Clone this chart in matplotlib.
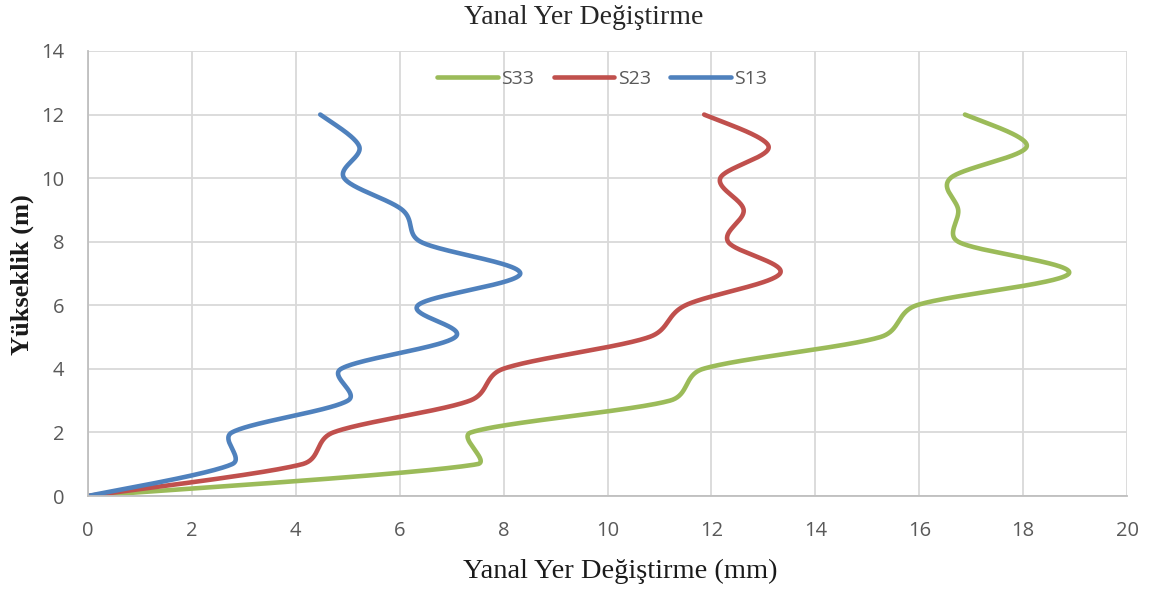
import numpy as np
import matplotlib
matplotlib.use("Agg")
import matplotlib.pyplot as plt

# Height levels (m) and lateral displacement (mm) per column
heights = [0, 1, 2, 3, 4, 5, 6, 7, 8, 9, 10, 11, 12]
s33 = [0, 7.49, 7.37, 11.2, 11.84, 15.25, 15.95, 18.88, 16.75, 16.75, 16.6, 18.07, 16.88]
s23 = [0, 4.12, 4.72, 7.35, 7.99, 10.8, 11.5, 13.32, 12.32, 12.62, 12.17, 13.1, 11.86]
s13 = [0, 2.77, 2.77, 5.0, 4.87, 7.07, 6.35, 8.32, 6.4, 6.05, 4.93, 5.22, 4.47]

series_names = ["S33", "S23", "S13"]
series_colors = ["#9BBB59", "#C0504D", "#4F81BD"]

x_ticks = list(range(0, 21, 2))
y_ticks = list(range(0, 15, 2))

# screen scale (px per data unit) so the smoothing follows the drawn shape
PX_X, PX_Y = 51.95, 31.79


def smooth(xs, ys, n=60, clamp=0.45):
    """Catmull-Rom style Bezier; handles capped by the length of their segment."""
    p = np.column_stack([np.asarray(xs) * PX_X, np.asarray(ys) * PX_Y]).astype(float)
    m = len(p)
    tang = [(p[min(i + 1, m - 1)] - p[max(i - 1, 0)]) / 6.0 for i in range(m)]

    def cap(v, L):
        nv = np.hypot(*v)
        lim = clamp * L
        return v * (lim / nv) if nv > lim and nv > 0 else v

    out = [p[0]]
    for i in range(m - 1):
        p1, p2 = p[i], p[i + 1]
        L = np.hypot(*(p2 - p1))
        c1 = p1 + cap(tang[i], L)
        c2 = p2 - cap(tang[i + 1], L)
        t = np.linspace(0, 1, n)[1:, None]
        seg = ((1 - t) ** 3) * p1 + 3 * ((1 - t) ** 2) * t * c1 \
            + 3 * (1 - t) * t ** 2 * c2 + t ** 3 * p2
        out.extend(seg)
    out = np.array(out)
    return out[:, 0] / PX_X, out[:, 1] / PX_Y


fig = plt.figure(figsize=(11.49, 5.9), dpi=100)
ax = fig.add_axes([0.0766, 0.1593, 0.9043, 0.7543])

for name, vals, col in zip(series_names, [s33, s23, s13], series_colors):
    sx, sy = smooth(vals, heights)
    ax.plot(sx, sy, color=col, lw=3.3, label=name, solid_capstyle="round")

ax.set_xlim(0, 20)
ax.set_ylim(0, 14)
ax.set_xticks(x_ticks)
ax.set_yticks(y_ticks)
ax.grid(True, color="#d9d9d9", lw=1.3)
ax.set_axisbelow(True)
for side in ["top", "right"]:
    ax.spines[side].set_visible(False)
for side in ["left", "bottom"]:
    ax.spines[side].set_color("#bfbfbf")
    ax.spines[side].set_linewidth(1.3)
ax.tick_params(length=0, colors="#595959", labelsize=14.5)
ax.tick_params(axis="x", pad=18)
ax.tick_params(axis="y", pad=17)
for lbl in ax.get_xticklabels() + ax.get_yticklabels():
    lbl.set_fontfamily("Open Sans")

fig.text(584 / 1149, 1 - 17 / 590, "Yanal Yer Değiştirme", ha="center", va="center",
         fontfamily="Liberation Serif", fontsize=20, color="#262626")
fig.text(620 / 1149, 1 - 571 / 590, "Yanal Yer Değiştirme (mm)", ha="center",
         va="center", fontfamily="Liberation Serif", fontsize=20.5, color="#1a1a1a")
fig.text(22 / 1149, 1 - 275 / 590, "Yükseklik (m)", ha="center", va="center",
         rotation=90, fontfamily="Liberation Serif", fontweight="bold",
         fontsize=19, color="#1a1a1a")

leg = ax.legend(loc="center", bbox_to_anchor=(0.495, 0.937), ncol=3,
                frameon=False, handlelength=3.1, columnspacing=1.0,
                handletextpad=0.2, prop={"family": "Open Sans", "size": 14})
for t in leg.get_texts():
    t.set_color("#595959")

fig.savefig("out.png", dpi=100)
